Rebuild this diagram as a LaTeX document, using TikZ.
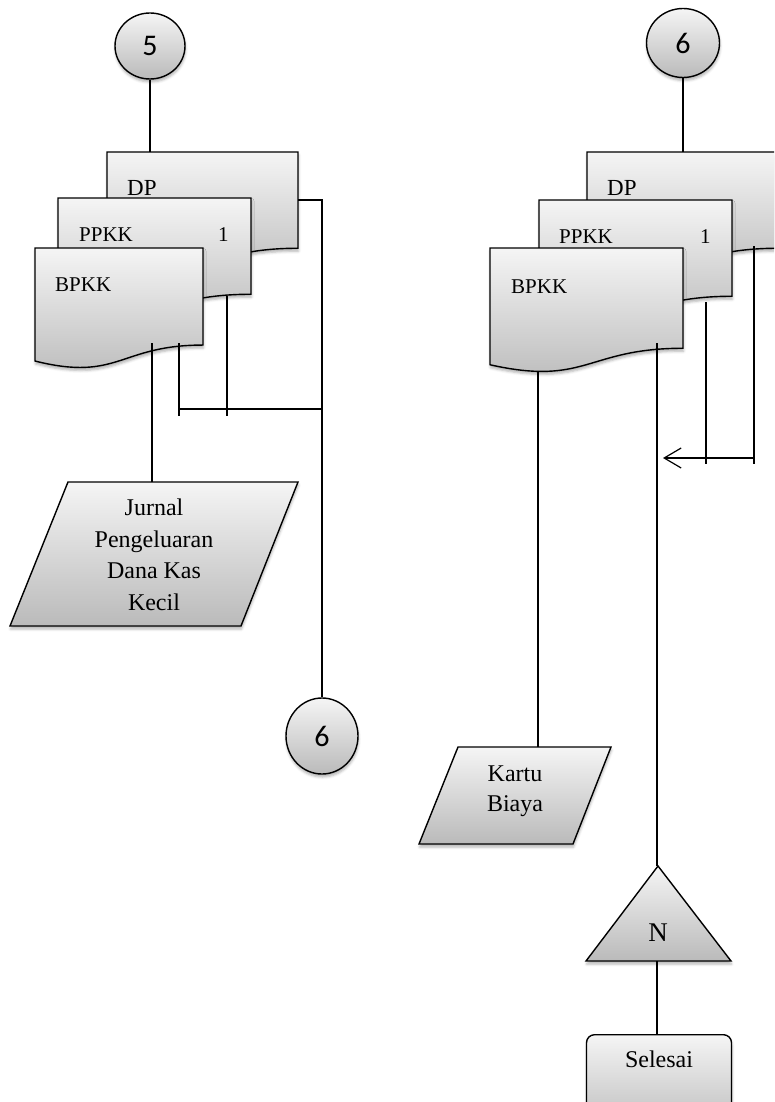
\documentclass[tikz,border=0pt]{standalone}
\usepackage{fontspec}
\setmainfont{Liberation Serif}
\newfontfamily\numfont{Carlito}
\usetikzlibrary{arrows.meta,shapes.geometric,shadows.blur}

\tikzset{
  shapefill/.style={draw=black, line width=1.4pt, top color=black!4, bottom color=black!27,
    blur shadow={shadow xshift=0.5pt, shadow yshift=-3pt, shadow opacity=30, shadow blur radius=2.5pt}},
  conn/.style={draw=black, line width=1.2pt},
  onpage/.style={ellipse, shapefill, inner sep=0pt, font=\numfont\fontsize{30}{32}\selectfont},
  doctext/.style={anchor=base west, inner sep=0pt, font=\fontsize{21}{24}\selectfont},
  bigdoctext/.style={anchor=base west, inner sep=0pt, font=\fontsize{23}{26}\selectfont},
  boxtext/.style={align=center, inner sep=0pt, font=\fontsize{24}{31.5}\selectfont},
}

% document symbol: name, left x, top y, width, height (y grows downwards)
\newcommand{\docshape}[5]{%
  \path[shapefill] (#2,#3) -- ({#2+#4},#3) -- ({#2+#4},{#3+0.802*#5})
    .. controls ({#2+0.5*#4},{#3+0.802*#5}) and ({#2+0.5*#4},{#3+1.1075*#5}) .. (#2,{#3+0.934*#5}) -- cycle;
  \node[inner sep=0pt, minimum width=#4pt, minimum height=#5pt, anchor=north west] (#1) at (#2,#3) {};
}

\begin{document}
\begin{tikzpicture}[x=1pt,y=-1pt]
\useasboundingbox (0,0) rectangle (774,1102);
\clip (0,0) rectangle (774,1102);

% ---------------- left column ----------------
\node[onpage, minimum width=70pt, minimum height=66pt] (c5) at (150,46) {5};

\docshape{dpL}{107}{152}{191}{120}
\node[bigdoctext] (dpLt) at (127,195) {DP};
\docshape{ppkkL}{58}{198}{193}{120}
\node[doctext] (ppkkLt) at (79,241) {PPKK};
\node[doctext] (ppkkLn) at (218,241) {1};
\docshape{bpkkL}{35}{248}{168}{121}
\node[doctext] (bpkkLt) at (55,291) {BPKK};

\path[shapefill] (68,482) -- (298,482) -- (241,626) -- (10,626) -- cycle;
\coordinate (jurnalTop) at (152,482);
\node[boxtext] (jurnal) at (154,555) {Jurnal\\Pengeluaran\\Dana Kas\\Kecil};

\node[onpage, minimum width=72pt, minimum height=76pt] (c6L) at (322,736) {6};

% connectors, left column
\draw[conn] (c5.south) -- (c5.south |- dpL.north);
\coordinate (dpLout) at (298,200);
\coordinate (busL) at (322,200);
\draw[conn] (dpLout) -- (busL) -- (c6L.north);
\coordinate (ppkkLout) at (227,296);
\coordinate (ppkkLend) at (227,416);
\draw[conn] (ppkkLout) -- (ppkkLend);
\coordinate (bpkkLoutB) at (179,343);
\coordinate (bpkkLendB) at (179,416);
\draw[conn] (bpkkLoutB) -- (bpkkLendB);
\coordinate (joinL) at (179,409);
\draw[conn] (joinL) -- (joinL -| busL);
\coordinate (bpkkLoutA) at (152,343);
\draw[conn] (bpkkLoutA) -- (jurnalTop);

% ---------------- right column ----------------
\node[onpage, minimum width=73pt, minimum height=69pt] (c6R) at (683,43) {6};

\docshape{dpR}{587}{152}{191}{120}
\node[bigdoctext] (dpRt) at (607,195) {DP};
\docshape{ppkkR}{539}{200}{193}{120}
\node[doctext] (ppkkRt) at (559,243) {PPKK};
\node[doctext] (ppkkRn) at (700,243) {1};
\docshape{bpkkR}{490}{248}{193}{125}
\node[doctext] (bpkkRt) at (511,293) {BPKK};

\path[shapefill] (458,747) -- (611,747) -- (573,844) -- (419,844) -- cycle;
\coordinate (kartuTop) at (538,747);
\node[boxtext, font=\fontsize{24}{30}\selectfont] (kartu) at (515,791) {Kartu\\Biaya};

\path[shapefill] (658,866) -- (731,961) -- (586,961) -- cycle;
\coordinate (triTop) at (657,866);
\coordinate (triBase) at (657,961);
\node[anchor=base, inner sep=0pt, font=\fontsize{27}{30}\selectfont] (nlabel) at (658,941) {N};

\node[shapefill, rounded corners=8pt, minimum width=145pt, minimum height=100pt, anchor=north] (selesaibox) at (659,1034) {};
\node[anchor=base, inner sep=0pt, font=\fontsize{24}{28}\selectfont] (selesai) at (659,1067) {Selesai};

% connectors, right column
\draw[conn] (c6R.south) -- (c6R.south |- dpR.north);
\coordinate (dpRout) at (754,246);
\coordinate (dpRend) at (754,464);
\draw[conn] (dpRout) -- (dpRend);
\coordinate (ppkkRout) at (706,302);
\coordinate (ppkkRend) at (706,464);
\draw[conn] (ppkkRout) -- (ppkkRend);
\coordinate (arrowStart) at (754,458);
\coordinate (arrowTip) at (663,458);
\draw[conn, -{Straight Barb[length=17pt, width=20pt]}] (arrowStart) -- (arrowTip);
\coordinate (bpkkRoutA) at (657,343);
\draw[conn] (bpkkRoutA) -- (triTop);
\coordinate (bpkkRoutB) at (538,371);
\draw[conn] (bpkkRoutB) -- (kartuTop);
\draw[conn] (triBase) -- (triBase |- selesaibox.north);
\end{tikzpicture}
\end{document}
